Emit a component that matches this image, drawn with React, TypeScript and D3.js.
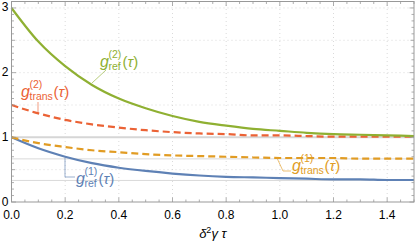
import * as d3 from "d3";

const taus = [0, 0.1, 0.2, 0.3, 0.4, 0.5, 0.6, 0.7, 0.8, 0.9, 1.0, 1.1, 1.2, 1.3, 1.4, 1.5];
const g2ref = [3, 2.48, 2.1, 1.81, 1.6, 1.45, 1.33, 1.24, 1.18, 1.13, 1.1, 1.07, 1.05, 1.04, 1.03, 1.02];
const g2trans = [1.5, 1.37, 1.27, 1.2, 1.15, 1.11, 1.08, 1.06, 1.05, 1.03, 1.03, 1.02, 1.01, 1.01, 1.01, 1.01];
const g1trans = [1, 0.91, 0.85, 0.8, 0.77, 0.74, 0.72, 0.71, 0.7, 0.69, 0.68, 0.68, 0.68, 0.67, 0.67, 0.67];
const g1ref = [1, 0.83, 0.7, 0.6, 0.53, 0.48, 0.44, 0.41, 0.39, 0.38, 0.37, 0.36, 0.35, 0.35, 0.34, 0.34];

const xTicks = [0, 0.2, 0.4, 0.6, 0.8, 1.0, 1.2, 1.4];
const yTicks = [0, 1, 2, 3];
const xGrid = [0.2, 0.4, 0.6, 0.8, 1.0, 1.2, 1.4];
const yGrid = [0.5, 1.5, 2, 2.5, 3];
const asymptotes = [1 / 3, 2 / 3];

const BLUE = "#5e81b5";
const ORANGE = "#e19c24";
const GREEN = "#8fb032";
const RED = "#eb6235";

const width = 415,
  height = 247,
  marginLeft = 11.5,
  marginRight = 1,
  marginTop = 1.5,
  marginBottom = 45;

const x = d3.scaleLinear().domain([0, 1.5]).range([marginLeft, width - marginRight]);
const y = d3.scaleLinear().domain([0, 3.1]).range([height - marginBottom, marginTop]);

const line = (vals: number[]) =>
  d3
    .line<number>()
    .x((_, i) => x(taus[i]))
    .y((d) => y(d))
    .curve(d3.curveMonotoneX)(vals) as string;

const series = [
  { vals: g1ref, color: BLUE, dash: null },
  { vals: g1trans, color: ORANGE, dash: "7,4" },
  { vals: g2trans, color: RED, dash: "7,4" },
  { vals: g2ref, color: GREEN, dash: null },
];

// curve labels: g^(sup)_(sub)(τ), with a thin leader line
const labels = [
  { sup: "(2)", sub: "ref", color: GREEN, x: 100, y: 67, leader: [[92, 83], [106, 70]] },
  { sup: "(2)", sub: "trans", color: RED, x: 21, y: 97, leader: [[38, 102], [38, 114]] },
  { sup: "(1)", sub: "ref", color: BLUE, x: 76, y: 184, leader: [[65, 158], [65, 177], [75, 177]] },
  { sup: "(1)", sub: "trans", color: ORANGE, x: 292, y: 171, leader: [[277, 158], [283, 171], [291, 171]] },
];

function CurveLabel({ sup, sub, color, x: lx, y: ly, leader }: any) {
  const subW = sub === "ref" ? 13 : 23;
  return (
    <g fill={color} fontFamily="Liberation Sans, Arial, sans-serif">
      <polyline points={leader.map((p: number[]) => p.join(",")).join(" ")} fill="none" stroke={color} strokeWidth={0.8} opacity={0.8} />
      <text x={lx} y={ly} fontSize={16} fontStyle="italic">g</text>
      <text x={lx + 8.5} y={ly - 9.5} fontSize={10.5}>{sup}</text>
      <text x={lx + 8.5} y={ly + 2.5} fontSize={10.5}>{sub}</text>
      <text x={lx + 9.5 + subW} y={ly} fontSize={15}>
        (<tspan fontStyle="italic">τ</tspan>)
      </text>
    </g>
  );
}

export default function App() {
  const x0 = x(0), x1 = x(1.5), y0 = y(0), y1 = y(3.1);
  const xMinor = d3.range(0, 1.5001, 0.05);
  const yMinor = d3.range(0, 3.1001, 0.1);
  return (
    <svg width={width} height={height} style={{ position: "absolute", left: 0, top: 0, background: "#fff" }}>
      {/* dotted grid */}
      <g stroke="#d0d0d0" strokeWidth={0.8} strokeDasharray="1,3">
        {xGrid.map((t) => (
          <line key={"gx" + t} x1={x(t)} x2={x(t)} y1={y0} y2={y1} />
        ))}
        {yGrid.map((t) => (
          <line key={"gy" + t} x1={x0} x2={x1} y1={y(t)} y2={y(t)} />
        ))}
      </g>
      {/* reference levels */}
      <line x1={x0} x2={x1} y1={y(1)} y2={y(1)} stroke="#d6d6d6" strokeWidth={2} />
      {asymptotes.map((a) => (
        <line key={a} x1={x0} x2={x1} y1={y(a)} y2={y(a)} stroke="#d9d9d9" strokeWidth={1} />
      ))}
      {/* curves */}
      {series.map((s, i) => (
        <path key={i} d={line(s.vals)} fill="none" stroke={s.color} strokeWidth={2.2} strokeDasharray={s.dash ?? undefined} />
      ))}
      {labels.map((l, i) => (
        <CurveLabel key={i} {...l} />
      ))}
      {/* frame and ticks */}
      <rect x={x0} y={y1} width={x1 - x0} height={y0 - y1} fill="none" stroke="#999" strokeWidth={1} />
      <g stroke="#999" strokeWidth={0.8}>
        {xMinor.map((t, i) => {
          const len = i % 4 === 0 ? 4.5 : 2.5;
          return (
            <g key={"tx" + i}>
              <line x1={x(t)} x2={x(t)} y1={y0} y2={y0 - len} />
              <line x1={x(t)} x2={x(t)} y1={y1} y2={y1 + len} />
            </g>
          );
        })}
        {yMinor.map((t, i) => {
          const len = i % 10 === 0 ? 4.5 : i % 5 === 0 ? 3.5 : 2.5;
          return (
            <g key={"ty" + i}>
              <line x1={x0} x2={x0 + len} y1={y(t)} y2={y(t)} />
              <line x1={x1} x2={x1 - len} y1={y(t)} y2={y(t)} />
            </g>
          );
        })}
      </g>
      <g fontFamily="Liberation Sans, Arial, sans-serif" fontSize={12} fill="#000">
        {xTicks.map((t) => (
          <text key={t} x={x(t)} y={y0 + 17} textAnchor="middle">
            {d3.format(".1f")(t)}
          </text>
        ))}
        {yTicks.map((t) => (
          <text key={t} x={x0 - 3} y={y(t) + 3.5} textAnchor="end">
            {t}
          </text>
        ))}
        <text x={(x0 + x1) / 2} y={238} textAnchor="middle" fontSize={13}>
          <tspan fontStyle="italic">δ</tspan>
          <tspan fontSize={9} dy={-5}>2</tspan>
          <tspan fontStyle="italic" dy={5}>γ</tspan>
          <tspan fontStyle="italic"> τ</tspan>
        </text>
      </g>
    </svg>
  );
}
